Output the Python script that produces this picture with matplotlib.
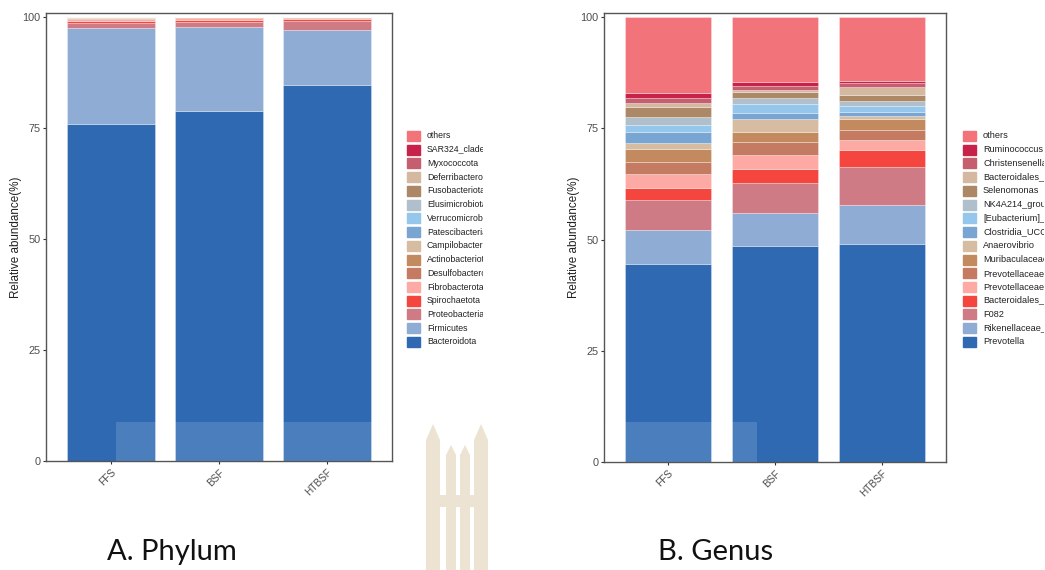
import matplotlib
matplotlib.use("Agg")
import matplotlib.pyplot as plt
from matplotlib.patches import Rectangle, Polygon
import numpy as np

plt.rcParams['font.family'] = ['Liberation Sans', 'DejaVu Sans']

samples = ["FFS", "BSF", "HTBSF"]

# phylum data, bottom of stack first
phylum_names = ["Bacteroidota", "Firmicutes", "Proteobacteria", "Spirochaetota",
                "Fibrobacterota", "Desulfobacterota", "Actinobacteriota",
                "Campilobacterota", "Patescibacteria", "Verrucomicrobiota",
                "Elusimicrobiota", "Fusobacteriota", "Deferribacterota",
                "Myxococcota", "SAR324_clade(Marine_group_B)", "others"]
phylum_ffs = [75.9, 21.7, 1.1, 0.4, 0.35, 0.15, 0.1, 0.02, 0.02, 0.02, 0.02, 0.1, 0.02, 0.02, 0.01, 0.07]
phylum_bsf = [78.8, 18.9, 1.1, 0.5, 0.5, 0.06, 0.04, 0.02, 0.02, 0.01, 0.01, 0.01, 0.01, 0.01, 0.01, 0.01]
phylum_htbsf = [84.7, 12.4, 2.0, 0.4, 0.3, 0.06, 0.04, 0.02, 0.02, 0.01, 0.01, 0.01, 0.01, 0.01, 0.01, 0.01]

# genus data, bottom of stack first
genus_names = ["Prevotella", "Rikenellaceae_RC9_gut_group", "F082",
               "Bacteroidales_RF16_group", "Prevotellaceae_UCG-003",
               "Prevotellaceae_UCG-001", "Muribaculaceae", "Anaerovibrio",
               "Clostridia_UCG-014", "[Eubacterium]_ruminantium_group",
               "NK4A214_group", "Selenomonas", "Bacteroidales_BS11_gut_group",
               "Christensenellaceae_R-7_group", "Ruminococcus", "others"]
genus_ffs = [44.5, 7.6, 6.8, 2.75, 3.0, 2.85, 2.76, 1.34, 2.6, 1.5, 1.9, 2.25, 0.9, 0.95, 1.15, 17.15]
genus_bsf = [48.5, 7.4, 6.7, 3.2, 3.3, 2.9, 2.2, 2.9, 1.4, 1.9, 1.5, 1.17, 0.53, 0.9, 0.96, 14.54]
genus_htbsf = [49.0, 8.75, 8.45, 3.9, 2.3, 2.2, 2.4, 0.8, 0.9, 1.4, 1.1, 1.3, 1.85, 0.75, 0.5, 14.4]

palette = ["#2E69B1", "#8FADD4", "#CF7B86", "#F4453F", "#FDAAA5", "#C57A62",
           "#C38A5F", "#D6BDA2", "#78A5D1", "#95C6EC", "#AFC0CC", "#AD8866",
           "#D5B8A0", "#C55F70", "#C8224A", "#F3737A"]

W, H = 1045, 570
fig = plt.figure(figsize=(W / 100, H / 100), dpi=100)


def px_axes(x0, y0, x1, y1):
    # pixel box (top-left origin) -> figure fraction
    return [x0 / W, 1 - y1 / H, (x1 - x0) / W, (y1 - y0) / H]


def stacked(ax, data, width):
    data = np.array(data)
    x = np.arange(1, len(samples) + 1)
    bottom = np.zeros(len(samples))
    for i in range(data.shape[1]):
        ax.bar(x, data[:, i], width, bottom=bottom, color=palette[i],
               edgecolor=(1, 1, 1, 0.35), linewidth=0.6)
        bottom += data[:, i]
    ax.set_xlim(0.4, 3.6)
    ax.set_ylim(0, 100.9)
    ax.set_yticks([0, 25, 50, 75, 100])
    ax.set_xticks(x)
    ax.set_xticklabels(samples, rotation=45, ha="right", rotation_mode="anchor")
    ax.tick_params(axis="y", labelsize=7.8, colors="#333333", length=2.5,
                   width=0.8, labelcolor="#4D4D4D", pad=1.5)
    ax.tick_params(axis="x", labelsize=7.2, colors="#333333", length=2.5,
                   width=0.8, labelcolor="#4D4D4D", pad=2)
    for s in ax.spines.values():
        s.set_color("#555555")
        s.set_linewidth(1.0)
    ax.set_ylabel("Relative abundance(%)", fontsize=8.4, color="#222222", labelpad=0)


def legend(x0, x1, names, box_x, text_x, fs):
    lax = fig.add_axes(px_axes(x0, 125, x1, 352))
    lax.set_xlim(x0, x1)
    lax.set_ylim(352, 125)
    lax.axis("off")
    for k, name in enumerate(reversed(names)):
        yc = 136 + k * 13.73
        col = palette[len(names) - 1 - k]
        lax.add_patch(Rectangle((box_x, yc - 5), 13, 10, color=col, clip_on=True))
        lax.text(text_x, yc, name, fontsize=fs, va="center", ha="left",
                 color="#222222", clip_on=True)


ax1 = fig.add_axes(px_axes(46, 13, 392, 461))
stacked(ax1, [phylum_ffs, phylum_bsf, phylum_htbsf], 0.81)
legend(400, 483, phylum_names, 407, 427, 6.3)

ax2 = fig.add_axes(px_axes(604, 13, 946, 462))
stacked(ax2, [genus_ffs, genus_bsf, genus_htbsf], 0.8)
legend(955, 1044, genus_names, 963, 983, 6.6)

# lighter band left over from the page watermark
ov = fig.add_axes([0, 0, 1, 1], facecolor="none")
ov.set_xlim(0, W)
ov.set_ylim(H, 0)
ov.axis("off")
ov.add_patch(Rectangle((116, 422), 276, 39, color="white", alpha=0.14, lw=0))
ov.add_patch(Rectangle((605, 422), 152, 40, color="white", alpha=0.14, lw=0))

# faint logo watermark
beige = "#EDE3D3"
ov.add_patch(Polygon([(426, 440), (433, 424), (440, 440), (440, 570), (426, 570)], color=beige, lw=0))
ov.add_patch(Polygon([(474, 440), (481, 424), (488, 440), (488, 570), (474, 570)], color=beige, lw=0))
ov.add_patch(Polygon([(446, 455), (451, 445), (456, 455), (456, 570), (446, 570)], color=beige, lw=0))
ov.add_patch(Polygon([(460, 455), (465, 445), (470, 455), (470, 570), (460, 570)], color=beige, lw=0))
ov.add_patch(Rectangle((440, 495), 34, 12, color=beige, lw=0))

fig.text(172 / W, 1 - 552 / H, "A. Phylum", fontsize=21, family=["Lato", "DejaVu Sans"],
         ha="center", va="center", color="#111111")
fig.text(716 / W, 1 - 552 / H, "B. Genus", fontsize=21, family=["Lato", "DejaVu Sans"],
         ha="center", va="center", color="#111111")

fig.savefig("out.png", dpi=100)
